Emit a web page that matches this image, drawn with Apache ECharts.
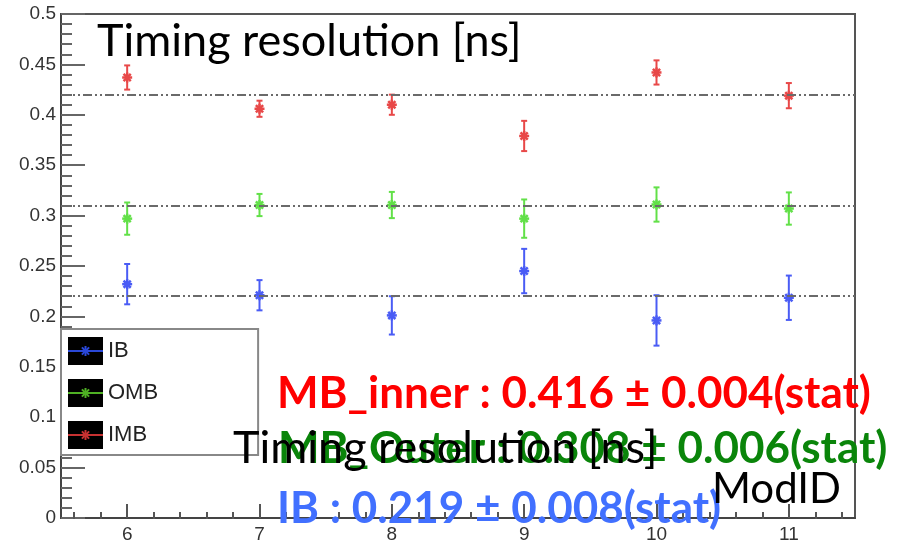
<!DOCTYPE html>
<html>
<head>
<meta charset="utf-8">
<script src="https://cdn.jsdelivr.net/npm/echarts@6/dist/echarts.min.js"></script>
<style>html, body { margin: 0; padding: 0; background: #fff; }</style>
</head>
<body>

<div id="main" style="width: 909px;height:544px;"></div>

<script type="text/javascript">
    // ModID on the x axis
    var modId = [6, 7, 8, 9, 10, 11];
    var xTicks = [6, 7, 8, 9, 10, 11];

    // timing resolution [ns] per module, with stat error
    var ibRes  = [0.232, 0.221, 0.201, 0.245, 0.196, 0.2185];
    var ibErr  = [0.020, 0.015, 0.019, 0.022, 0.025, 0.022];
    var ombRes = [0.297, 0.3105, 0.3105, 0.297, 0.311, 0.307];
    var ombErr = [0.016, 0.011, 0.013, 0.019, 0.017, 0.016];
    var imbRes = [0.437, 0.406, 0.410, 0.379, 0.442, 0.419];
    var imbErr = [0.012, 0.008, 0.010, 0.015, 0.012, 0.0125];

    // fitted averages, drawn as dash-dot lines
    var fitIB = 0.219;
    var fitOMB = 0.308;
    var fitIMB = 0.416;

    // minor ticks on ModID axis, every 0.2
    var xMinorTicks = [];
    for (var t = 5.6; t < 11.5; t += 0.2) {
        var v = Math.round(t * 10) / 10;
        if (Math.abs(v - Math.round(v)) > 0.01) xMinorTicks.push(v);
    }

    var gridBox = { left: 61, right: 54, top: 14, bottom: 25 };

    function starParts(cx, cy, s, style) {
        var d = s * 0.72;
        return [
            { type: 'line', shape: { x1: cx - s, y1: cy, x2: cx + s, y2: cy }, style: style },
            { type: 'line', shape: { x1: cx, y1: cy - s, x2: cx, y2: cy + s }, style: style },
            { type: 'line', shape: { x1: cx - d, y1: cy - d, x2: cx + d, y2: cy + d }, style: style },
            { type: 'line', shape: { x1: cx - d, y1: cy + d, x2: cx + d, y2: cy - d }, style: style }
        ];
    }

    function errorBar(color) {
        return function (params, api) {
            var x = api.value(0), y = api.value(1), e = api.value(2);
            var c = api.coord([x, y]);
            var hi = api.coord([x, y + e]);
            var lo = api.coord([x, y - e]);
            var style = { stroke: color, lineWidth: 2 };
            var kids = [
                { type: 'line', shape: { x1: c[0], y1: hi[1], x2: c[0], y2: lo[1] }, style: style },
                { type: 'line', shape: { x1: c[0] - 3, y1: hi[1], x2: c[0] + 3, y2: hi[1] }, style: style },
                { type: 'line', shape: { x1: c[0] - 3, y1: lo[1], x2: c[0] + 3, y2: lo[1] }, style: style }
            ];
            var starStyle = { stroke: color, lineWidth: 2.5 };
            return { type: 'group', children: kids.concat(starParts(c[0], c[1], 5, starStyle)) };
        };
    }

    function fitLine(value) {
        return {
            silent: true,
            symbol: 'none',
            label: { show: false },
            lineStyle: { color: '#6a6a6a', width: 2, type: [9, 3, 2, 3, 2, 3] },
            data: [{ yAxis: value }]
        };
    }

    function pack(res, err) {
        return modId.map(function (x, i) { return [x, res[i], err[i]]; });
    }

    // legend inner line + star (the legend itself draws the black boxes)
    var legendColors = ['#2a48d8', '#4fb024', '#c83232'];
    var legendGraphic = [];
    legendColors.forEach(function (col, i) {
        var cy = 329 + 8 + i * 42 + 14;
        var st = { stroke: col, lineWidth: 2 };
        legendGraphic.push({ type: 'line', z: 100, shape: { x1: 68, y1: cy, x2: 103, y2: cy }, style: st });
        starParts(85.5, cy, 5, st).forEach(function (p) { p.z = 100; legendGraphic.push(p); });
    });

    var myChart = echarts.init(document.getElementById('main'));

    var option = {
        animation: false,
        grid: [
            Object.assign({ show: true, borderColor: '#555', borderWidth: 2 }, gridBox),
            Object.assign({ show: false }, gridBox)
        ],
        xAxis: [{
            gridIndex: 0,
            type: 'value',
            min: 5.5,
            max: 11.5,
            axisLine: { lineStyle: { color: '#444', width: 2 } },
            axisTick: { inside: true, length: 14, customValues: xTicks, lineStyle: { color: '#555', width: 2 } },
            axisLabel: { customValues: xTicks, margin: 7, fontSize: 19, color: '#333', fontFamily: 'Liberation Sans' },
            splitLine: { show: false }
        }, {
            gridIndex: 1,
            type: 'value',
            min: 5.5,
            max: 11.5,
            axisLine: { show: false },
            axisTick: { inside: true, length: 7, customValues: xMinorTicks, lineStyle: { color: '#555', width: 2 } },
            axisLabel: { show: false, customValues: xMinorTicks },
            splitLine: { show: false }
        }],
        yAxis: [{
            gridIndex: 0,
            type: 'value',
            min: 0,
            max: 0.5,
            interval: 0.05,
            axisLine: { show: true, lineStyle: { color: '#444', width: 2 } },
            axisTick: { show: true, inside: true, length: 24, lineStyle: { color: '#666', width: 2 } },
            minorTick: { show: true, splitNumber: 5, length: 11, lineStyle: { color: '#666', width: 2 } },
            axisLabel: { margin: 5, fontSize: 19, color: '#333', fontFamily: 'Liberation Sans' },
            splitLine: { show: false }
        }, {
            gridIndex: 1,
            type: 'value',
            min: 0,
            max: 0.5,
            show: false
        }],
        legend: {
            orient: 'vertical',
            left: 61,
            top: 329,
            icon: 'rect',
            itemWidth: 35,
            itemHeight: 28,
            itemGap: 14,
            selectedMode: false,
            padding: [8, 100, 6, 7],
            backgroundColor: '#fff',
            borderColor: '#888',
            borderWidth: 2,
            textStyle: { fontSize: 22, color: '#222', fontFamily: 'Liberation Sans' },
            data: [
                { name: 'IB', itemStyle: { color: '#000' } },
                { name: 'OMB', itemStyle: { color: '#000' } },
                { name: 'IMB', itemStyle: { color: '#000' } }
            ]
        },
        series: [{
            name: 'IB',
            type: 'custom',
            xAxisIndex: 0, yAxisIndex: 0,
            renderItem: errorBar('#4a5cf5'),
            encode: { x: 0, y: 1 },
            data: pack(ibRes, ibErr),
            markLine: fitLine(fitIB)
        }, {
            name: 'OMB',
            type: 'custom',
            xAxisIndex: 0, yAxisIndex: 0,
            renderItem: errorBar('#62e048'),
            encode: { x: 0, y: 1 },
            data: pack(ombRes, ombErr),
            markLine: fitLine(fitOMB)
        }, {
            name: 'IMB',
            type: 'custom',
            xAxisIndex: 0, yAxisIndex: 0,
            renderItem: errorBar('#e84848'),
            encode: { x: 0, y: 1 },
            data: pack(imbRes, imbErr),
            markLine: fitLine(fitIMB)
        }],
        graphic: legendGraphic.concat([
            { type: 'text', x: 97, y: 41, z: 50, style: { text: 'Timing resolution [ns]', font: '45px Lato', fill: '#000', align: 'left', verticalAlign: 'middle' } },
            { type: 'text', x: 277, y: 394, z: 50, style: { text: 'MB_inner : 0.416 \u00b1 0.004(stat)', font: 'bold 44px Lato', fill: '#ff0000', align: 'left', verticalAlign: 'middle' } },
            { type: 'text', x: 278, y: 449, z: 50, style: { text: 'MB_Outer : 0.308 \u00b1 0.006(stat)', font: 'bold 44px Lato', fill: '#0a850a', align: 'left', verticalAlign: 'middle' } },
            { type: 'text', x: 277, y: 509, z: 50, style: { text: 'IB : 0.219 \u00b1 0.008(stat)', font: 'bold 44px Lato', fill: '#4170ff', align: 'left', verticalAlign: 'middle' } },
            { type: 'text', x: 233, y: 448, z: 60, style: { text: 'Timing resolution [ns]', font: '45px Lato', fill: '#000', align: 'left', verticalAlign: 'middle' } },
            { type: 'text', x: 712, y: 489, z: 60, style: { text: 'ModID', font: '42px Lato', fill: '#000', align: 'left', verticalAlign: 'middle' } }
        ])
    };

    myChart.setOption(option);
</script>

</body>
</html>
